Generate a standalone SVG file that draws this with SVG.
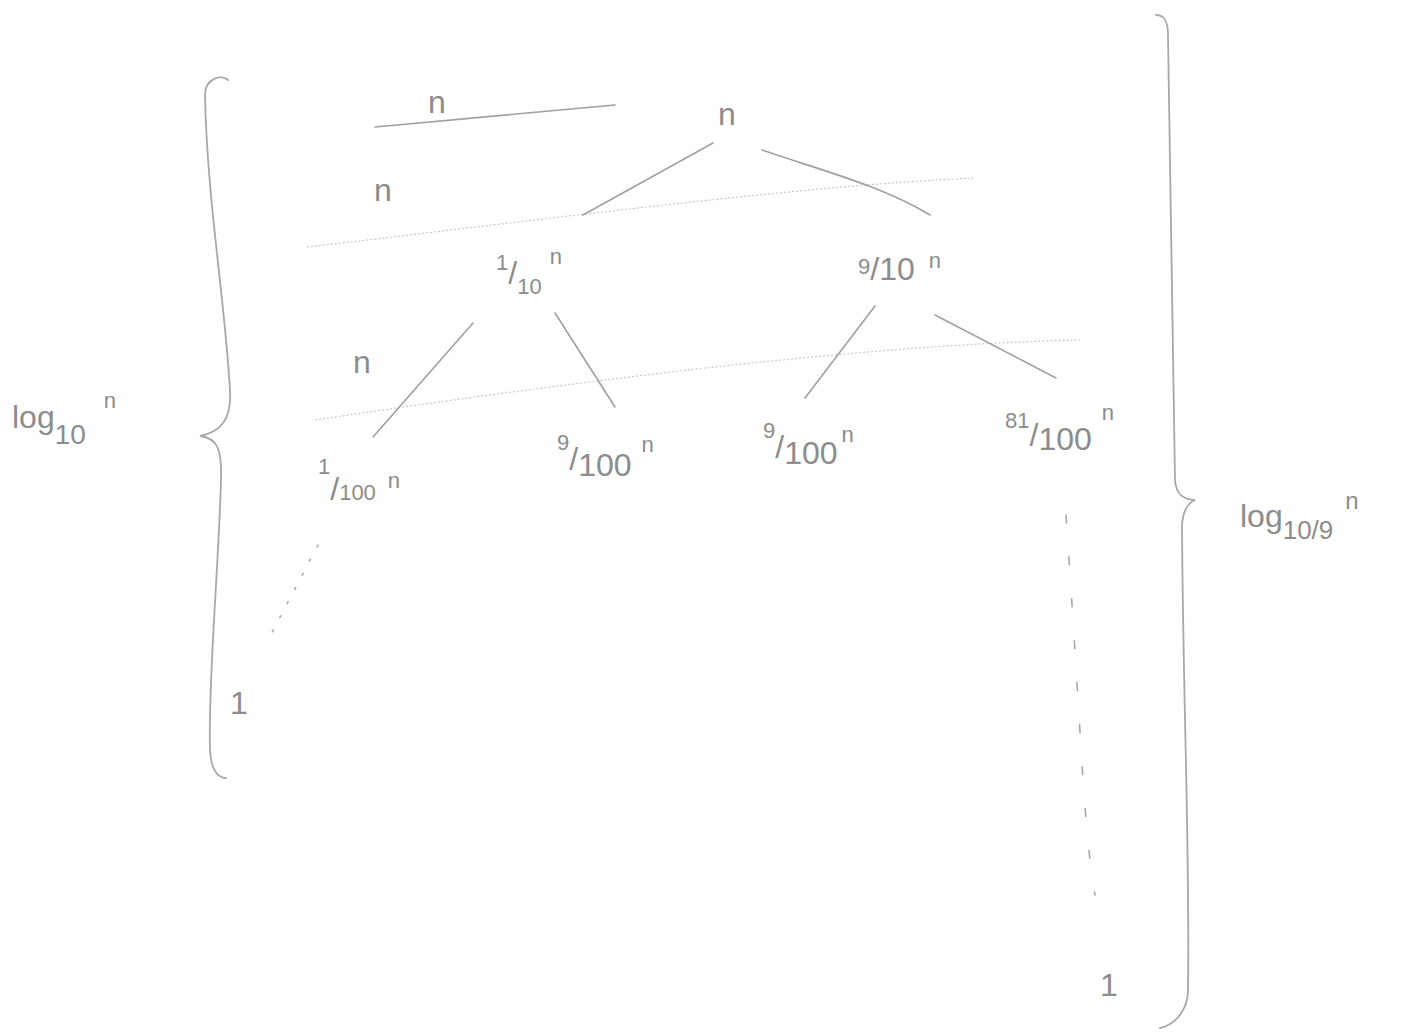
<svg xmlns="http://www.w3.org/2000/svg" width="1415" height="1035" viewBox="0 0 1415 1035">
<style>
.t{font-family:"Liberation Sans","DejaVu Sans",sans-serif;fill:#8c8c8c;font-size:32px}
.s{font-size:22px}
.e{stroke:#a0a0a0;stroke-width:1.6;fill:none;stroke-linecap:round}
.lv{stroke:#c8c8c8;stroke-width:1.2;fill:none;stroke-dasharray:2 2}
.br{stroke:#a8a8a8;stroke-width:1.8;fill:none;stroke-linecap:round}
.dt{stroke:#a8a8a8;stroke-width:1.6;fill:none;stroke-linecap:round}
</style>
<rect width="1415" height="1035" fill="#ffffff"/>

<g id="connectors">
  <path class="e" d="M375,127 L615,105"/>
  <path class="lv" d="M307,247 C500,225 800,185 975,178"/>
  <path class="lv" d="M315,420 C550,385 850,345 1080,340"/>
  <path class="e" d="M713,143 L583,215"/>
  <path class="e" d="M762,150 C820,170 880,185 930,215"/>
  <path class="e" d="M473,323 L373,437"/>
  <path class="e" d="M555,313 L615,407"/>
  <path class="e" d="M875,306 L805,398"/>
  <path class="e" d="M935,315 L1056,378"/>
  <path class="dt" stroke-dasharray="2 14" d="M318,545 L267,642"/>
  <path class="dt" stroke-dasharray="8 34" d="M1066,515 C1072,600 1078,700 1083,780 C1088,850 1092,880 1095,895"/>
</g>

<g id="brace-left"><path class="br" d="M228,80 C222,74 205,78 205,95 C207,200 225,300 230,390 C232,420 220,432 200,436 C218,438 222,450 221,480 C218,580 208,680 210,750 C211,770 218,778 226,778"/></g>
<g id="brace-right"><path class="br" d="M1156,15 C1165,15 1168,22 1168,35 C1170,200 1174,350 1175,480 C1176,495 1185,500 1195,500 C1188,503 1183,510 1182,525 C1183,700 1190,850 1188,990 C1188,1010 1175,1025 1160,1028"/></g>

<g id="label-n-top"><text class="t" x="428" y="113">n</text></g>
<g id="label-n-2"><text class="t" x="374" y="201">n</text></g>
<g id="label-n-3"><text class="t" x="353" y="373">n</text></g>

<g id="node-root"><text class="t" x="718" y="125">n</text></g>
<g id="node-1-10"><text class="t" x="496" y="284" font-size="36"><tspan class="s" font-size="26" dy="-14">1</tspan><tspan dy="14">/</tspan><tspan class="s" font-size="26" dy="10">10</tspan><tspan class="s" dx="8" dy="-30">n</tspan></text></g>
<g id="node-9-10"><text class="t" x="858" y="280" font-size="34"><tspan class="s" font-size="28" dy="-6">9</tspan><tspan dy="6">/</tspan>10<tspan class="s" dx="14" dy="-12">n</tspan></text></g>
<g id="node-1-100"><text class="t" x="318" y="500" font-size="36"><tspan class="s" dy="-26">1</tspan><tspan dy="26">/</tspan><tspan class="s" font-size="24" dy="0">100</tspan><tspan class="s" dx="12" dy="-12">n</tspan></text></g>
<g id="node-9-100-a"><text class="t" x="557" y="476" font-size="36"><tspan class="s" font-size="26" dy="-26">9</tspan><tspan dy="20">/</tspan><tspan dy="6">100</tspan><tspan class="s" dx="10" dy="-24">n</tspan></text></g>
<g id="node-9-100-b"><text class="t" x="763" y="464" font-size="36"><tspan class="s" font-size="26" dy="-26">9</tspan><tspan dy="20">/</tspan><tspan dy="6">100</tspan><tspan class="s" dx="4" dy="-22">n</tspan></text></g>
<g id="node-81-100"><text class="t" x="1005" y="450" font-size="36"><tspan class="s" font-size="26" dy="-22">81</tspan><tspan dy="18">/</tspan><tspan dy="4">100</tspan><tspan class="s" dx="10" dy="-30">n</tspan></text></g>

<g id="leaf-left"><text class="t" x="230" y="714" font-size="36">1</text></g>
<g id="leaf-right"><text class="t" x="1100" y="996" font-size="36">1</text></g>

<g id="label-log10"><text class="t" x="12" y="428" font-size="44">log<tspan font-size="28" dy="16">10</tspan><tspan class="s" font-size="24" dx="18" dy="-36">n</tspan></text></g>
<g id="label-log10-9"><text class="t" x="1240" y="527" font-size="40">log<tspan font-size="26" dy="12">10/9</tspan><tspan font-size="24" dx="12" dy="-30">n</tspan></text></g>
</svg>
